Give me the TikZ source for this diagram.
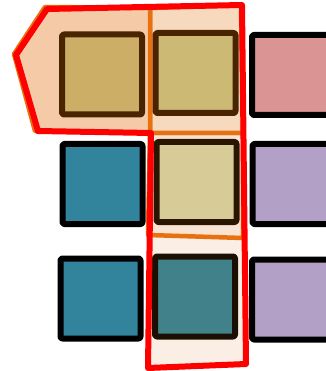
\documentclass[tikz,border=0pt]{standalone}
\usepackage{tikz}
\usetikzlibrary{positioning}
\definecolor{hlorange}{HTML}{E8700F}
\definecolor{hlred}{HTML}{FF0000}
\definecolor{fillA}{HTML}{F5CBA7}
\definecolor{fillB}{HTML}{F7D9BE}
\definecolor{fillC}{HTML}{F9E3D3}
\definecolor{fillD}{HTML}{FBEEE4}
\definecolor{tanA}{HTML}{CCAE66}
\definecolor{tanB}{HTML}{CBB974}
\definecolor{tanC}{HTML}{D7CB98}
\definecolor{rosy}{HTML}{DA9494}
\definecolor{tealA}{HTML}{31849C}
\definecolor{tealB}{HTML}{41818A}
\definecolor{lilac}{HTML}{B3A0C6}
\definecolor{brownA}{HTML}{4A2300}
\definecolor{brownB}{HTML}{2A1600}
\definecolor{brownC}{HTML}{1A0F00}

\begin{document}
\begin{tikzpicture}[x=1pt,y=-1pt,line join=round,
  cell/.style={draw=black,line width=6pt,rounded corners=2pt,minimum size=80pt,inner sep=0pt},
  region/.style={draw=hlorange,line width=4.5pt}]
  \useasboundingbox (0,0) rectangle (325,371);
  % highlighted regions
  \fill[fillD] (148,236) -- (243,238) -- (246,365) -- (147,368) -- cycle;
  \filldraw[region,fill=fillC] (150,133) -- (243,133) -- (243,238) -- (148,235) -- cycle;
  \filldraw[region,fill=fillB] (150,8) -- (241,5) -- (243,133) -- (150,133) -- cycle;
  \filldraw[region,fill=fillA] (45,7) -- (150,8) -- (150,133) -- (35,131) -- (14,54) -- cycle;
  % cells
  \node[cell,fill=tanA,draw=brownA] (r1c1) at (102,74.5) {};
  \node[cell,fill=tanB,draw=brownA] (r1c2) at (195.5,73) {};
  \node[cell,fill=rosy] (r1c3) at (292,75) {};
  \node[cell,fill=tealA] (r2c1) at (102.5,184) {};
  \node[cell,fill=tanC,draw=brownB] (r2c2) at (196.5,182) {};
  \node[cell,fill=lilac] (r2c3) at (292.5,184) {};
  \node[cell,fill=tealA] (r3c1) at (100.5,298.5) {};
  \node[cell,fill=tealB,draw=brownC] (r3c2) at (195,296.5) {};
  \node[cell,fill=lilac] (r3c3) at (292,299.5) {};
  % outline
  \draw[hlred,line width=6pt] (47,9) -- (242,5) -- (246,364) -- (148,368)
    -- (151,133) -- (38,131) -- (16,55) -- cycle;
\end{tikzpicture}
\end{document}
